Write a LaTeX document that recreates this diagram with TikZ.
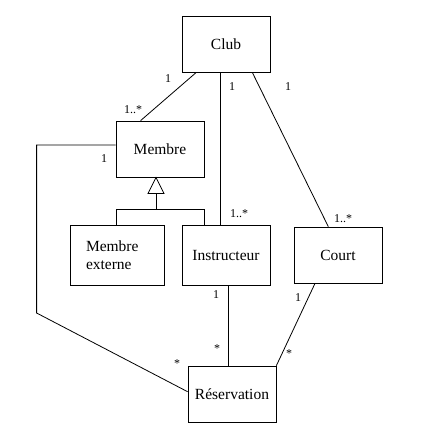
\documentclass[tikz,border=0pt]{standalone}
\usepackage{fontspec}
\setmainfont{Liberation Serif}
\usepackage{tikz}
\usetikzlibrary{positioning}

\begin{document}
\begin{tikzpicture}[x=1pt, y=-1pt, line width=0.8pt,
    classe/.style={draw, inner sep=0pt, minimum width=88pt, minimum height=56pt, font=\fontsize{15.5}{18}\selectfont},
    mult/.style={inner sep=0pt, font=\fontsize{12}{14}\selectfont}]
  \useasboundingbox (0,0) rectangle (421,437);
  % the classes
  \node[classe] (club) at (226,44) {Club};
  \node[classe] (membre) at (160,149) {Membre};
  \node[classe, minimum width=94pt, minimum height=60pt, text width=62pt, align=left] (mext) at (117,255) {Membre\\externe};
  \node[classe, minimum height=60pt] (instr) at (226,255) {Instructeur};
  \node[classe] (court) at (338,255) {Court};
  \node[classe] (resa) at (232,394) {Réservation};
  % associations from the club
  \draw ([xshift=14.7pt]club.south west) -- ([xshift=25pt]membre.north west);
  \draw ([xshift=-5.7pt]club.south) -- ([xshift=-5.7pt]instr.north);
  \draw ([xshift=26.3pt]club.south) -- ([xshift=-9.7pt]court.north);
  \node[mult] (m1) at (168,79) {1};
  \node[mult] (m2) at (133,110) {1..*};
  \node[mult] (m3) at (232,87) {1};
  \node[mult] (m4) at (239,214) {1..*};
  \node[mult] (m5) at (288,87) {1};
  \node[mult] (m6) at (343,219) {1..*};
  % generalisation: instructors and external members are members
  \draw ([xshift=-4pt]membre.south) -- ++(-8,16) -- ++(16,0) -- cycle;
  \draw ([xshift=-4pt,yshift=-16pt]membre.south) -- ++(0,16) coordinate (bar);
  \draw ([xshift=-1pt]mext.north) |- (bar) -| ([xshift=-22pt]instr.north);
  % associations towards the reservation
  \draw ([yshift=4pt]membre.west) -- ++(-79,0) -- ++(0,168) -- ([yshift=2.3pt]resa.west);
  \draw ([xshift=2.3pt]instr.south) -- ([xshift=-3.7pt]resa.north);
  \draw ([xshift=-23pt]court.south) -- (resa.north east);
  \node[mult] (m7) at (104,159) {1};
  \node[mult] (m8) at (177,364) {*};
  \node[mult] (m9) at (216,295) {1};
  \node[mult] (m10) at (217,349) {*};
  \node[mult] (m11) at (298,298) {1};
  \node[mult] (m12) at (289,354) {*};
\end{tikzpicture}
\end{document}
